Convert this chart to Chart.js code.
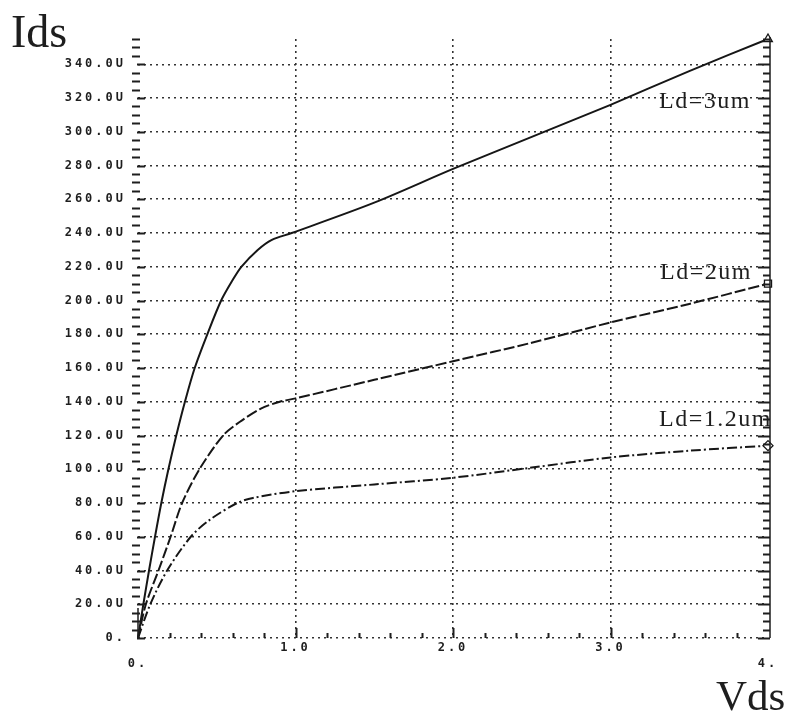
<!DOCTYPE html>
<html>
<head>
<meta charset="utf-8">
<script src="https://cdn.jsdelivr.net/npm/chart.js@4.4.0/dist/chart.umd.min.js"></script>
<style>
  body { margin: 0; background: #fff; }
  canvas { display: block; }
</style>
</head>
<body>
<canvas id="ivChart" width="787" height="717"></canvas>
<script>
// Ids vs Vds for three drain lengths (Ids in uA)
var vds3 = [0, 0.034, 0.070, 0.108, 0.148, 0.193, 0.243, 0.298, 0.360, 0.440, 0.528, 0.60, 0.656, 0.76, 0.85, 0.976, 1.5, 2.0, 2.5, 3.0, 3.5, 4.0];
var ids3 = [0, 20, 40, 60, 80, 100, 120, 140, 160, 180, 200, 212, 220, 230, 236, 240, 258, 278, 297, 316, 336, 355];

var vds2 = [0, 0.05, 0.13, 0.207, 0.28, 0.39, 0.54, 0.645, 0.78, 0.9, 1.0, 1.5, 2.0, 2.5, 3.0, 3.5, 4.0];
var ids2 = [0, 20, 40, 60, 80, 100, 120, 128, 136, 140, 142, 153, 164, 175, 187, 198, 210];

var vds12 = [0, 0.078, 0.185, 0.335, 0.455, 0.63, 0.73, 1.0, 1.5, 2.0, 2.5, 3.0, 3.5, 4.0];
var ids12 = [0, 20, 40, 60, 70, 80, 83, 87, 91, 95, 101, 107, 111, 114];

var seriesNames = ['Ld=3um', 'Ld=2um', 'Ld=1.2um'];
var endMarkers = ['triangle', 'rect', 'rectRot'];

var xTicks = [0, 1, 2, 3, 4];
var yMax = 355;
var yLastTick = 340;


function toPoints(xs, ys) {
  let pts = [];
  for (let i = 0; i < xs.length; i++) {
    pts.push({ x: xs[i], y: ys[i] });
  }
  return pts;
}

function lastOnly(size) {
  return function(ctx) {
    return ctx.dataIndex === ctx.dataset.data.length - 1 ? size : 0;
  };
}

function makeSet(i, xs, ys, dash) {
  return {
    label: seriesNames[i],
    data: toPoints(xs, ys),
    showLine: true,
    clip: false,
    borderColor: '#161616',
    borderWidth: 2,
    borderDash: dash,
    tension: 0.3,
    pointStyle: endMarkers[i],
    pointRadius: lastOnly(5),
    pointBorderWidth: 1.3,
    pointBorderColor: '#161616',
    pointBackgroundColor: '#fff'
  };
}

const ink = '#1e1e1e';

// tick marks, right frame and the hand lettered labels
const decor = {
  id: 'decor',
  beforeDraw(chart) {
    chart.ctx.letterSpacing = '3px';
  },
  afterDraw(chart) {
    const ctx = chart.ctx;
    const xs = chart.scales.x;
    const ys = chart.scales.y;
    const area = chart.chartArea;

    ctx.save();
    ctx.strokeStyle = ink;
    ctx.lineWidth = 2;
    ctx.beginPath();
    for (let v = 0; v <= yMax; v += 5) {
      let py = Math.round(ys.getPixelForValue(v)) + 0.5;
      let major = v % 20 === 0;
      // left axis
      if (major) {
        ctx.moveTo(area.left - 1, py); ctx.lineTo(area.left + 7, py);
      } else {
        ctx.moveTo(area.left - 6, py); ctx.lineTo(area.left + 2, py);
      }
      // right axis
      ctx.moveTo(area.right + 2, py); ctx.lineTo(area.right - (major ? 10 : 5), py);
    }
    // bottom axis
    for (let k = 1; k < 20; k++) {
      let v = k * 0.2;
      let px = Math.round(xs.getPixelForValue(v)) + 0.5;
      let len = k % 5 === 0 ? 10 : 5;
      ctx.moveTo(px, area.bottom); ctx.lineTo(px, area.bottom - len);
    }
    ctx.stroke();

    ctx.lineWidth = 1.5;
    ctx.beginPath();
    ctx.moveTo(area.right + 2, area.bottom);
    ctx.lineTo(area.right + 2, area.top - 2);
    ctx.moveTo(area.left, area.bottom);
    ctx.lineTo(area.left, area.bottom - 30);
    ctx.stroke();

    ctx.fillStyle = ink;
    ctx.textBaseline = 'alphabetic';
    ctx.textAlign = 'left';
    ctx.letterSpacing = '0px';
    ctx.font = '46px "Liberation Serif", serif';
    ctx.fillText('Ids', 11, 47);
    ctx.font = '43px "Liberation Serif", serif';
    ctx.fillText('Vds', 716, 710);

    ctx.letterSpacing = '1.5px';
    ctx.font = '24px "Liberation Serif", serif';
    ctx.fillText(seriesNames[0], 659, 108);
    ctx.fillText(seriesNames[1], 660, 279);
    ctx.fillText(seriesNames[2], 659, 426);
    ctx.restore();
  }
};

new Chart(document.getElementById('ivChart'), {
  type: 'scatter',
  data: {
    datasets: [
      makeSet(0, vds3, ids3, []),
      makeSet(1, vds2, ids2, [11, 3]),
      makeSet(2, vds12, ids12, [10, 3, 2, 3])
    ]
  },
  options: {
    responsive: false,
    animation: false,
    layout: {
      padding: { top: 39, right: 19, left: 0, bottom: 0 }
    },
    scales: {
      x: {
        type: 'linear',
        min: 0,
        max: 4,
        afterFit: function(scale) { scale.height = 79; },
        afterBuildTicks: function(scale) {
          scale.ticks = xTicks.map(v => ({ value: v }));
        },
        ticks: {
          color: ink,
          padding: 2,
          maxRotation: 0,
          font: { family: '"DejaVu Sans Mono", monospace', size: 12, weight: 'bold', lineHeight: 1.35 },
          callback: function(v) {
            if (v === 0) return ['', '0.'];
            if (v === 4) return ['', '4.'];
            return v.toFixed(1);
          }
        },
        grid: {
          drawTicks: false,
          lineWidth: 1.6,
          color: function(c) {
            let v = c.tick ? c.tick.value : 0;
            return (v > 0 && v < 4) ? '#333' : 'rgba(0,0,0,0)';
          }
        },
        border: { display: false, dash: [2, 4] }
      },
      y: {
        type: 'linear',
        min: 0,
        max: yMax,
        afterFit: function(scale) { scale.width = 138; },
        afterBuildTicks: function(scale) {
          scale.ticks = scale.ticks.filter(t => t.value <= yLastTick);
        },
        ticks: {
          stepSize: 20,
          color: ink,
          padding: 12,
          font: { family: '"DejaVu Sans Mono", monospace', size: 12, weight: 'bold' },
          callback: function(v) {
            if (v === 0) return '0.';
            return v.toFixed(1) + 'U';
          }
        },
        grid: {
          drawTicks: false,
          lineWidth: 1.6,
          color: '#333'
        },
        border: { display: false, dash: [2, 4] }
      }
    },
    plugins: {
      legend: { display: false },
      tooltip: { enabled: false }
    }
  },
  plugins: [decor]
});
</script>
</body>
</html>
